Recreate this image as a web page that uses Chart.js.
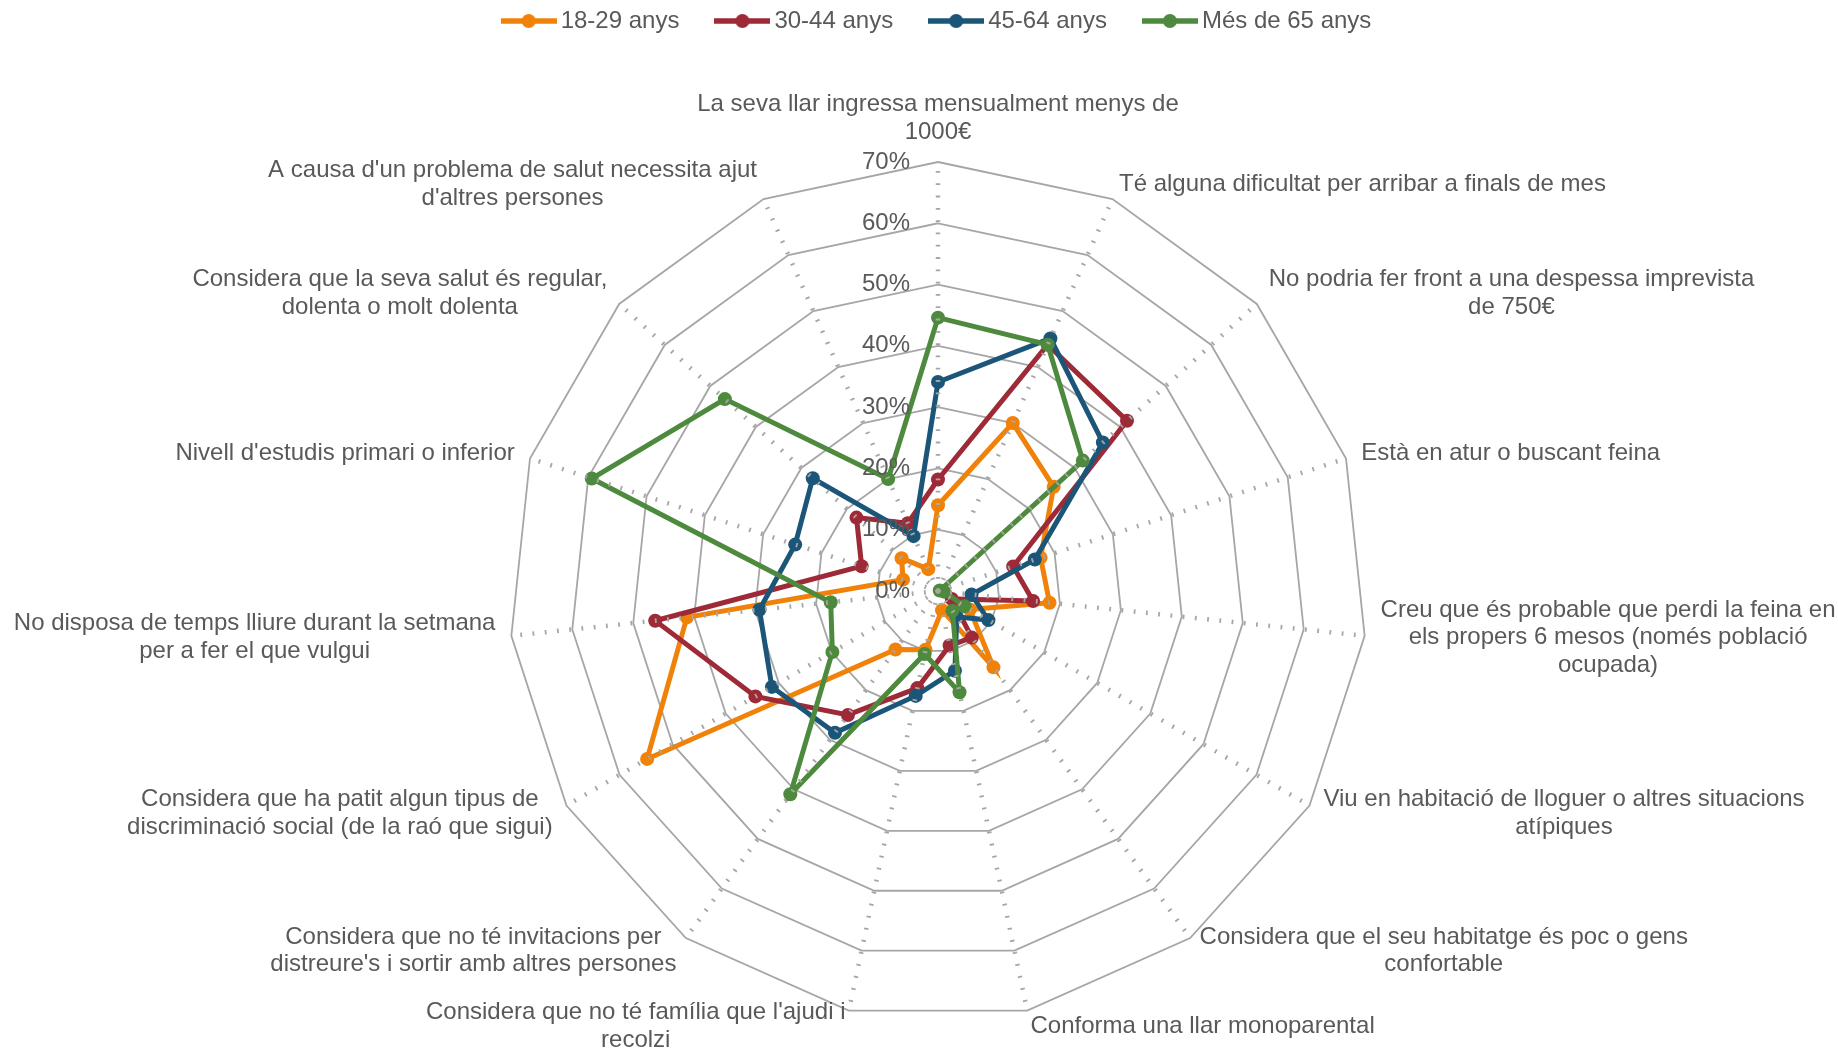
<!DOCTYPE html>
<html lang="ca">
<head>
<meta charset="utf-8">
<title>Radar per edats</title>
<script src="https://cdn.jsdelivr.net/npm/chart.js@4/dist/chart.umd.min.js"></script>
<style>
  html, body { margin: 0; padding: 0; background: #fff; }
  #wrap { width: 1838px; height: 1048px; position: relative; }
</style>
</head>
<body>
<div id="wrap"><canvas id="radar"></canvas></div>
<script>
const categories = [
  ["La seva llar ingressa mensualment menys de", "1000€"],
  ["Té alguna dificultat per arribar a finals de mes"],
  ["No podria fer front a una despessa imprevista", "de 750€"],
  ["Està en atur o buscant feina"],
  ["Creu que és probable que perdi la feina en", "els propers 6 mesos (només població", "ocupada)"],
  ["Viu en habitació de lloguer o altres situacions", "atípiques"],
  ["Considera que el seu habitatge és poc o gens", "confortable"],
  ["Conforma una llar monoparental"],
  ["Considera que no té família que l'ajudi i", "recolzi"],
  ["Considera que no té invitacions per", "distreure's i sortir amb altres persones"],
  ["Considera que ha patit algun tipus de", "discriminació social (de la raó que sigui)"],
  ["No disposa de temps lliure durant la setmana", "per a fer el que vulgui"],
  ["Nivell d'estudis primari o inferior"],
  ["Considera que la seva salut és regular,", "dolenta o molt dolenta"],
  ["A causa d'un problema de salut necessita ajut", "d'altres persones"]
];

const seriesNames = ["18-29 anys", "30-44 anys", "45-64 anys", "Més de 65 anys"];

// percentatges per categoria (ordre de categories)
const age18to29 = [14, 30, 25.4, 17.6, 18.3, 6, 15.4, 3.2, 9.8, 11.8, 54.8, 41.2, 6, 8, 3.9];
const age30to44 = [18.2, 44, 41.5, 12.9, 15.6, 2.6, 9.4, 9.1, 16.2, 25, 34.4, 46.4, 13.1, 17.9, 12.1];
const age45to64 = [34.1, 45.1, 36.2, 16.6, 5.5, 9.5, 5.2, 13.3, 17.5, 28.6, 31.3, 29.3, 24.5, 27.5, 9.8];
const age65plus = [44.6, 44, 31.8, 0.3, 1, 5, 4, 16.9, 10.5, 41, 19.9, 17.6, 59.4, 46.8, 20];

const tickValues = [0, 10, 20, 30, 40, 50, 60, 70];

const colors = ["#F0820A", "#9E2A37", "#1B5679", "#4E8A3E"];
const textColor = "#595959";
const gridColor = "#A6A6A6";
const fontFamily = "'Liberation Sans', Arial, sans-serif";

// legend icon: line with a marker in the middle
function legendIcon(color) {
  const c = document.createElement("canvas");
  c.width = 56;
  c.height = 16;
  const g = c.getContext("2d");
  g.strokeStyle = color;
  g.lineWidth = 5.5;
  g.beginPath();
  g.moveTo(0, 8);
  g.lineTo(56, 8);
  g.stroke();
  g.fillStyle = color;
  g.beginPath();
  g.arc(28, 8, 7, 0, Math.PI * 2);
  g.fill();
  return c;
}

const legendSpacer = {
  id: "legendSpacer",
  beforeInit(chart) {
    const fit = chart.legend.fit;
    chart.legend.fit = function () {
      fit.bind(chart.legend)();
      this.height = 196;
    };
  },
  afterLayout(chart) {
    // nudge legend a bit to the right, like the original
    chart.legend.left += 2;
    chart.legend.right += 2;
  }
};

// dotted spokes on top of the series, tick labels and category labels
const radarDecor = {
  id: "radarDecor",
  afterDatasetsDraw(chart) {
    const scale = chart.scales.r;
    const ctx = chart.ctx;
    ctx.save();
    ctx.strokeStyle = gridColor;
    ctx.lineWidth = 4.5;
    ctx.lineCap = "butt";
    ctx.setLineDash([1.8, 10.5]);
    categories.forEach((_, i) => {
      const end = scale.getPointPosition(i, scale.drawingArea - 4);
      ctx.beginPath();
      ctx.moveTo(scale.xCenter, scale.yCenter);
      ctx.lineTo(end.x, end.y);
      ctx.stroke();
    });
    ctx.setLineDash([]);

    ctx.font = "24px " + fontFamily;
    ctx.fillStyle = textColor;
    ctx.textAlign = "right";
    ctx.textBaseline = "middle";
    tickValues.forEach((v) => {
      const pos = scale.getPointPositionForValue(0, v);
      ctx.fillText(v + "%", pos.x - 28, pos.y);
    });
    ctx.restore();
  },
  afterDraw(chart) {
    const scale = chart.scales.r;
    const ctx = chart.ctx;
    const lh = 27.5;
    ctx.save();
    ctx.font = "24px " + fontFamily;
    ctx.fillStyle = textColor;
    ctx.textAlign = "center";
    ctx.textBaseline = "middle";
    categories.forEach((lines, i) => {
      const angle = scale.getIndexAngle(i);
      const sin = Math.sin(angle);
      const cos = Math.cos(angle);
      const h = lines.length * lh;
      const w = Math.max(...lines.map((l) => ctx.measureText(l).width));
      const p = scale.getPointPosition(i, scale.drawingArea + 16);
      let cx = p.x;
      let cy = p.y;
      if (Math.abs(sin) < 0.05) {
        cy = cos > 0 ? p.y - h / 2 : p.y + h / 2;
      } else {
        cx = sin > 0 ? p.x + w / 2 : p.x - w / 2;
      }
      lines.forEach((l, k) => {
        ctx.fillText(l, cx, cy - h / 2 + lh * (k + 0.5));
      });
    });
    ctx.restore();
  }
};

const seriesData = [age18to29, age30to44, age45to64, age65plus];

new Chart(document.getElementById("radar"), {
  type: "radar",
  data: {
    labels: categories,
    datasets: seriesData.map((values, i) => ({
      label: seriesNames[i],
      data: values,
      borderColor: colors[i],
      backgroundColor: colors[i],
      pointBackgroundColor: colors[i],
      pointBorderWidth: 0,
      pointRadius: 7,
      borderWidth: 5,
      fill: false,
      tension: 0,
      order: seriesData.length - i // last series drawn on top
    }))
  },
  options: {
    responsive: true,
    maintainAspectRatio: false,
    animation: false,
    layout: { padding: { top: -34, left: 38, right: 0, bottom: 28 } },
    plugins: {
      tooltip: { enabled: false },
      legend: {
        position: "top",
        labels: {
          usePointStyle: true,
          pointStyleWidth: 40,
          padding: 43,
          color: textColor,
          font: { family: fontFamily, size: 24 },
          generateLabels(chart) {
            return chart.data.datasets.map((ds, i) => ({
              text: ds.label,
              fillStyle: ds.borderColor,
              strokeStyle: ds.borderColor,
              lineWidth: 0,
              pointStyle: legendIcon(ds.borderColor),
              fontColor: textColor,
              hidden: !chart.isDatasetVisible(i),
              datasetIndex: i
            }));
          }
        }
      }
    },
    scales: {
      r: {
        min: 0,
        max: 70,
        ticks: { display: false, stepSize: 10 },
        grid: { color: gridColor, lineWidth: 1.8 },
        angleLines: { display: false },
        pointLabels: { display: false }
      }
    }
  },
  plugins: [legendSpacer, radarDecor]
});
</script>
</body>
</html>
